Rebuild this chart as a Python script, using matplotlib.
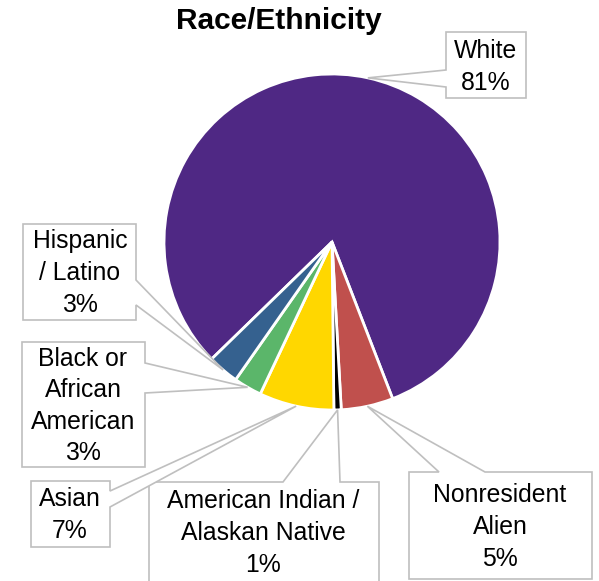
import matplotlib
matplotlib.use('Agg')
import matplotlib.pyplot as plt
from matplotlib.patches import Polygon
import numpy as np

plt.rcParams['font.family'] = ['Liberation Sans', 'DejaVu Sans']

# ---- data ----
categories = ['White', 'Nonresident\nAlien', 'American Indian /\nAlaskan Native',
              'Asian', 'Black or\nAfrican\nAmerican', 'Hispanic\n/ Latino']
values = [81.4, 5.0, 0.7, 7.2, 2.7, 3.0]
pct_labels = ['81%', '5%', '1%', '7%', '3%', '3%']
colors = ['#4F2884', '#C0504D', '#000000', '#FFD700', '#5BB66A', '#35618F']
title = 'Race/Ethnicity'

# ---- layout (screen pixels, y down) ----
W, H = 599, 581
center_px = (332, 242)
radius_px = 168
# box: left, top, right, bottom ; pointer side ; pointer base (from, to)
boxes = [
    ((446, 32, 526, 98), 'left', (70, 87)),
    ((409, 472, 592, 579), 'top', (439, 485)),
    ((149, 482, 379, 600), 'top', (283, 340)),
    ((31, 481, 110, 547), 'right', (491, 507)),
    ((22, 342, 145, 467), 'right', (363, 393)),
    ((23, 224, 136, 320), 'right', (280, 305)),
]
text_centers = [(486, 67), (500, 527), (263, 533), (70, 515), (83, 406), (80, 273)]

fig = plt.figure(figsize=(W / 100, H / 100), dpi=100)
ax = fig.add_axes([0, 0, 1, 1])

cx, cy = center_px[0], H - center_px[1]
wedges, _ = ax.pie(values, colors=colors, startangle=224.2, counterclock=False,
                   center=(cx, cy), radius=radius_px,
                   wedgeprops=dict(edgecolor='white', linewidth=2.0))
ax.set_xlim(0, W)
ax.set_ylim(0, H)
ax.set_aspect('auto')
ax.axis('off')

def fy(y):
    return H - y

edge_col = '#BFBFBF'
for w, (box, side, base), cat, pct, (tx, ty) in zip(wedges, boxes, categories,
                                                     pct_labels, text_centers):
    mid = np.deg2rad((w.theta1 + w.theta2) / 2)
    tip = (cx + radius_px * np.cos(mid), cy + radius_px * np.sin(mid))
    L, T, R, B = box
    if side == 'left':
        pts = [(L, fy(T)), (R, fy(T)), (R, fy(B)), (L, fy(B)),
               (L, fy(base[1])), tip, (L, fy(base[0]))]
    elif side == 'right':
        pts = [(L, fy(T)), (R, fy(T)), (R, fy(base[0])), tip,
               (R, fy(base[1])), (R, fy(B)), (L, fy(B))]
    else:  # top
        pts = [(L, fy(T)), (base[0], fy(T)), tip, (base[1], fy(T)),
               (R, fy(T)), (R, fy(B)), (L, fy(B))]
    poly = Polygon(pts, closed=True, facecolor='white', edgecolor=edge_col,
                   linewidth=1.2, zorder=3, clip_on=False)
    ax.add_patch(poly)
    ax.text(tx, fy(ty), cat + '\n' + pct, ha='center', va='center',
            multialignment='center', fontsize=17.8, color='#000000',
            linespacing=1.4, zorder=4)

fig.text(279 / W, 1 - 21 / H, title, ha='center', va='center',
         fontsize=21.5, fontweight='bold', color='#000000')

fig.savefig('out.png', dpi=100, facecolor='white')
